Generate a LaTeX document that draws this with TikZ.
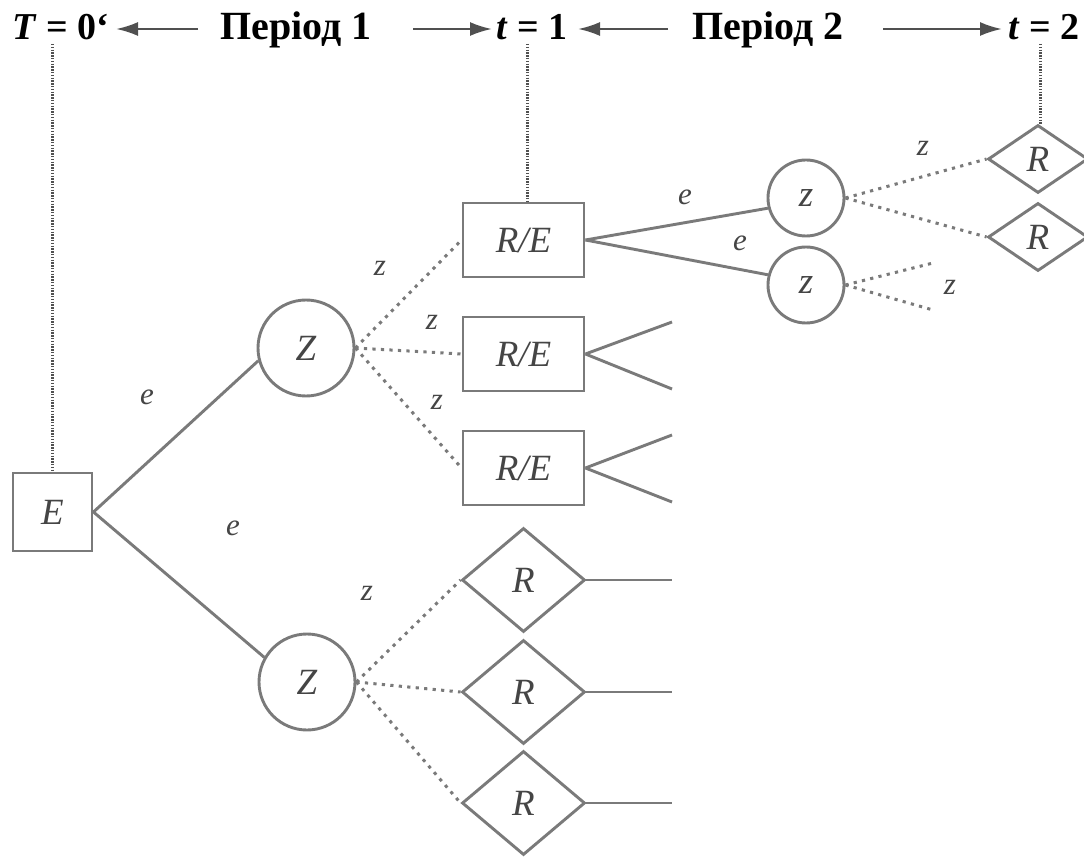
\documentclass[tikz,border=0pt]{standalone}
\usepackage{fontspec}
\setmainfont{Liberation Serif}
\usetikzlibrary{shapes.geometric,arrows.meta}
\definecolor{linegray}{HTML}{7A7A7A}
\definecolor{txtgray}{HTML}{454545}
\definecolor{hdrline}{HTML}{505050}
\begin{document}
\begin{tikzpicture}[x=1pt,y=-1pt,
  conn/.style={draw=linegray, line width=2.9pt},
  dotconn/.style={draw=linegray, line width=3pt, dash pattern=on 3.2pt off 5.3pt},
  vdots/.style={draw=hdrline, line width=3pt, dash pattern=on 1.4pt off 1.4pt},
  harrow/.style={draw=hdrline, line width=2.4pt, -{Latex[length=22pt,width=14pt]}},
  hdr/.style={font=\fontsize{38}{42}\selectfont\bfseries, text=black, inner sep=0, anchor=base},
  shapebase/.style={draw=linegray, line width=2.9pt, inner sep=0, text=txtgray,
    font=\fontsize{37}{40}\selectfont\itshape},
  boxnode/.style={shapebase, rectangle, minimum width=121, minimum height=74},
  bignode/.style={shapebase, circle, minimum size=96},
  smallnode/.style={shapebase, circle, minimum size=76},
  dianode/.style={shapebase, diamond, minimum width=123, minimum height=104},
  smalldia/.style={shapebase, diamond, minimum width=100, minimum height=68},
  lbl/.style={text=txtgray, font=\fontsize{31}{34}\selectfont\itshape, inner sep=0}
]
\useasboundingbox (0,0) rectangle (1084,858);
\fill[white] (0,0) rectangle (1084,858);

% header
\node[hdr, anchor=base west] (T0) at (12,40) {\textit{T} = 0`};
\node[hdr, font=\fontsize{40}{44}\selectfont\bfseries] (P1) at (296,40) {Період 1};
\node[hdr] (T1) at (532,40) {\textit{t} = 1};
\node[hdr, font=\fontsize{40}{44}\selectfont\bfseries] (P2) at (768,40) {Період 2};
\node[hdr] (T2) at (1044,40) {\textit{t} = 2};
\coordinate (a1s) at (198,29); \coordinate (a1e) at (116,29);
\coordinate (a2s) at (413,29); \coordinate (a2e) at (492,29);
\coordinate (a3s) at (668,29); \coordinate (a3e) at (578,29);
\coordinate (a4s) at (883,29); \coordinate (a4e) at (1002,29);
\draw[harrow] (a1s) -- (a1e);
\draw[harrow] (a2s) -- (a2e);
\draw[harrow] (a3s) -- (a3e);
\draw[harrow] (a4s) -- (a4e);

% nodes
\node[shapebase, rectangle, minimum width=79, minimum height=78] (E) at (52.5,512) {E};
\node[bignode] (Zu) at (306,348) {Z};
\node[bignode] (Zl) at (307,682) {Z};
\node[boxnode] (RE1) at (523.5,240) {R/E};
\node[boxnode] (RE2) at (523.5,354) {R/E};
\node[boxnode] (RE3) at (523.5,468) {R/E};
\node[dianode] (D1) at (523.5,580) {R};
\node[dianode] (D2) at (523.5,692) {R};
\node[dianode] (D3) at (523.5,803) {R};
\node[smallnode] (z1) at (806,198) {z};
\node[smallnode] (z2) at (806,285) {z};
\node[smalldia] (R1) at (1038,159) {R};
\node[smalldia] (R2) at (1038,237) {R};

% header dotted verticals
\coordinate (h0) at (52,44);
\coordinate (h1) at (527,44);
\coordinate (h2) at (1040,44);
\draw[vdots] (h0) -- (h0 |- E.north);
\draw[vdots] (h1) -- (h1 |- RE1.north);
\draw[vdots] (h2) -- (h2 |- R1.north);

% solid connectors
\draw[conn] (E.east) -- (Zu.195);
\draw[conn] (E.east) -- (Zl.150);
\draw[conn] (RE1.east) -- (z1.195);
\draw[conn] (RE1.east) -- (z2.165);

\coordinate (o21) at (672,322); \coordinate (o22) at (672,389);
\coordinate (o31) at (672,435); \coordinate (o32) at (672,502);
\draw[conn] (RE2.east) -- (o21);
\draw[conn] (RE2.east) -- (o22);
\draw[conn] (RE3.east) -- (o31);
\draw[conn] (RE3.east) -- (o32);
\coordinate (d1e) at (672,580); \coordinate (d2e) at (672,692); \coordinate (d3e) at (672,803);
\draw[conn] (D1.east) -- (d1e);
\draw[conn] (D2.east) -- (d2e);
\draw[conn] (D3.east) -- (d3e);

% dotted connectors
\draw[dotconn] (Zu.east) -- (RE1.west);
\draw[dotconn] (Zu.east) -- (RE2.west);
\draw[dotconn] (Zu.east) -- (RE3.west);
\draw[dotconn] (Zl.east) -- (D1.west);
\draw[dotconn] (Zl.east) -- (D2.west);
\draw[dotconn] (Zl.east) -- (D3.west);
\draw[dotconn] (z1.east) -- (R1.west);
\draw[dotconn] (z1.east) -- (R2.west);
\coordinate (f1) at (933,263); \coordinate (f2) at (933,310);
\draw[dotconn] (z2.east) -- (f1);
\draw[dotconn] (z2.east) -- (f2);

% labels
\node[lbl] (le1) at (147,397) {e};
\node[lbl] (le2) at (233,528) {e};
\node[lbl] (lz1) at (380,268) {z};
\node[lbl] (lz2) at (432,322) {z};
\node[lbl] (lz3) at (437,402) {z};
\node[lbl] (lz4) at (367,593) {z};
\node[lbl] (le3) at (685,197) {e};
\node[lbl] (le4) at (740,243) {e};
\node[lbl] (lz5) at (923,148) {z};
\node[lbl] (lz6) at (950,287) {z};
\end{tikzpicture}
\end{document}
